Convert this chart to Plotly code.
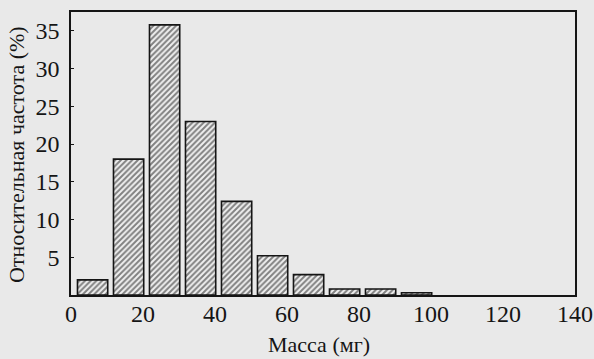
import plotly.graph_objects as go

# Histogram of body mass: bin midpoints (mg) and relative frequency (%)
mass_bins = [6, 16, 26, 36, 46, 56, 66, 76, 86, 96]
rel_freq = [2.0, 18.0, 35.8, 23.0, 12.4, 5.2, 2.7, 0.8, 0.8, 0.3]
x_ticks = [0, 20, 40, 60, 80, 100, 120, 140]
y_ticks = [5, 10, 15, 20, 25, 30, 35]
x_title = "Масса (мг)"
y_title = "Относительная частота (%)"

paper = "#e9e9e9"
ink = "#151515"
serif = "Liberation Serif, Times New Roman, serif"

fig = go.Figure(
    go.Bar(
        x=mass_bins,
        y=rel_freq,
        width=8.4,
        marker=dict(
            color=paper,
            line=dict(color=ink, width=1.6),
            pattern=dict(shape="/", fgcolor="#111111", bgcolor="#f0f0f0",
                         size=4, solidity=0.5),
        ),
    )
)

axis_common = dict(
    showgrid=False,
    zeroline=False,
    showline=True,
    linecolor=ink,
    linewidth=1.5,
    mirror=True,
    automargin=False,
)

# x tick labels sit close under the axis line, placed on the data scale
x_labels = [
    dict(text=str(t), x=t, xref="x", yref="paper", y=-0.067,
         xanchor="center", yanchor="middle", showarrow=False,
         font=dict(size=24))
    for t in x_ticks
]

fig.update_layout(
    width=594,
    height=359,
    margin=dict(l=71, r=19, t=12, b=64),
    paper_bgcolor=paper,
    plot_bgcolor=paper,
    showlegend=False,
    font=dict(family=serif, color=ink, size=24),
    xaxis=dict(range=[0, 140], tickvals=x_ticks, ticks="",
               showticklabels=False, **axis_common),
    yaxis=dict(range=[0, 37.5], tickvals=y_ticks, ticks="inside", ticklen=3,
               tickcolor=ink, ticklabelstandoff=5, **axis_common),
    annotations=x_labels + [
        dict(text=x_title, xref="paper", yref="paper", x=0.492, y=-0.175,
             xanchor="center", yanchor="middle", showarrow=False,
             font=dict(size=22)),
        dict(text=y_title, xref="paper", yref="paper", x=-0.107, y=0.495,
             xanchor="center", yanchor="middle", textangle=-90,
             showarrow=False, font=dict(size=22)),
    ],
)

fig.write_html("out.html")
